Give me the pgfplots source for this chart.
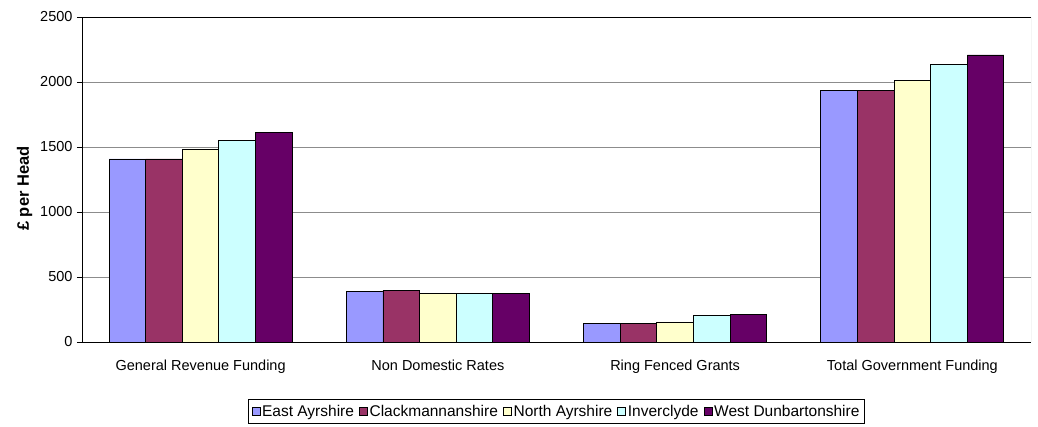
\documentclass[border=0pt]{standalone}
\usepackage{pgfplots}
\pgfplotsset{compat=1.18}
\usepackage{fontspec}
\setmainfont{Liberation Sans}
\definecolor{cEA}{HTML}{9999FF}
\definecolor{cCL}{HTML}{993366}
\definecolor{cNA}{HTML}{FFFFCC}
\definecolor{cIN}{HTML}{CCFFFF}
\definecolor{cWD}{HTML}{660066}
\begin{document}
\begin{tikzpicture}
\begin{axis}[name=ax,
  scale only axis, width=949pt, height=325pt,
  ybar=0pt, bar width=36.6pt,
  xmin=-0.5, xmax=3.5, ymin=0, ymax=2500,
  ytick={0,500,1000,1500,2000,2500},
  xtick={0,1,2,3},
  xticklabels={General Revenue Funding,Non Domestic Rates,Ring Fenced Grants,Total Government Funding},
  major x tick style={draw=none},
  extra x ticks={-0.5,0.5,1.5,2.5,3.5},
  extra x tick labels={},
  extra x tick style={major tick length=5pt, tick align=outside, tick style={black, draw=black}},
  axis lines=left, axis line style={-, black, line width=0.8pt},
  tick align=outside, major tick length=5pt,
  ytick style={black},
  ymajorgrids, grid style={gray!90, line width=0.8pt},
  /pgf/number format/assume math mode=true,
  /pgf/number format/set thousands separator={},
  ticklabel style={font=\fontsize{14.5}{16}\selectfont, text=black},
  yticklabel style={xshift=-1pt},
  xticklabel style={yshift=-9pt},
  ylabel={\textbf{£ per Head}},
  ylabel style={at={(axis description cs:-0.0605,0.472)}, anchor=center, font=\fontsize{16.5}{18}\selectfont},
  legend style={at={(0.5,-0.1754)}, anchor=north, legend columns=5, draw=black, line width=0.8pt,
    font=\fontsize{15.5}{17}\selectfont, inner xsep=3pt, inner ysep=3.5pt,
    /tikz/every even column/.append style={column sep=3pt}},
  legend image code/.code={\draw[#1,draw=black,line width=0.6pt] (0pt,-4pt) rectangle (8pt,4pt);},
  every axis plot/.append style={draw=black, line width=0.9pt},
]
\addplot[fill=cEA] coordinates {(0,1408) (1,387) (2,141) (3,1938)};
\addplot[fill=cCL] coordinates {(0,1408) (1,398) (2,141) (3,1938)};
\addplot[fill=cNA] coordinates {(0,1485) (1,375) (2,154) (3,2013)};
\addplot[fill=cIN] coordinates {(0,1548) (1,375) (2,205) (3,2133)};
\addplot[fill=cWD] coordinates {(0,1613) (1,375) (2,215) (3,2208)};
\legend{East Ayrshire,Clackmannanshire,North Ayrshire,Inverclyde,West Dunbartonshire}
\draw[black, line width=0.8pt] (rel axis cs:0,1) -- (rel axis cs:1,1);
\draw[gray!60, line width=0.8pt] (rel axis cs:1,0) -- (rel axis cs:1,1);
\end{axis}
\pgfresetboundingbox
\path ([shift={(-82pt,-84pt)}]ax.south west) rectangle ([shift={(7pt,17pt)}]ax.north east);
\end{tikzpicture}
\end{document}
